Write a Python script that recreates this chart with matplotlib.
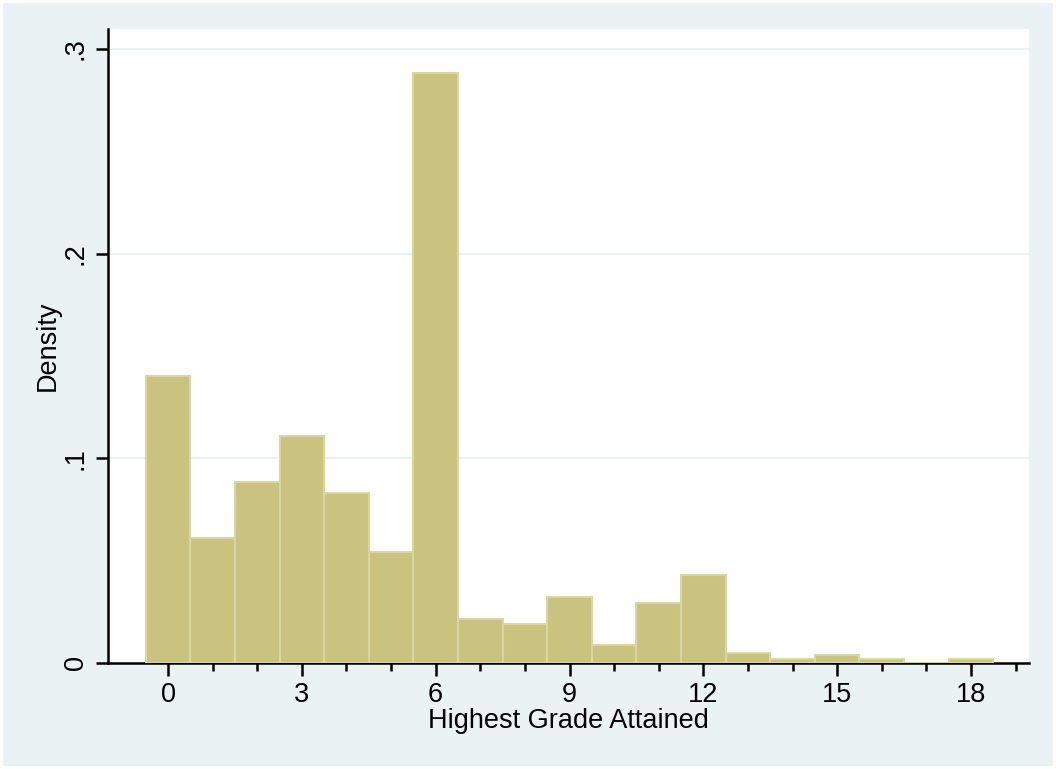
# Histogram of highest grade attained (Stata s2color look)
import matplotlib
matplotlib.use("Agg")
import matplotlib.pyplot as plt
import matplotlib.patches as mpatches
from matplotlib.ticker import FixedLocator

grades  = [0, 1, 2, 3, 4, 5, 6, 7, 8, 9, 10, 11, 12, 13, 14, 15, 16, 17, 18]
density = [0.1403, 0.0611, 0.0884, 0.1109, 0.0831, 0.0542, 0.2883, 0.0215,
           0.0191, 0.0322, 0.0088, 0.0293, 0.0430, 0.0049, 0.0020, 0.0039,
           0.0020, 0.0, 0.0020]
xticks  = [0, 3, 6, 9, 12, 15, 18]
yticks  = [0, 0.1, 0.2, 0.3]
ylabels = ["0", ".1", ".2", ".3"]

BG   = "#EAF2F3"
FILL = "#CAC380"
EDGE = "#DAD6A3"
FS   = 19.5

plt.rcParams["font.family"] = ["Liberation Sans", "DejaVu Sans"]

fig = plt.figure(figsize=(10.56, 7.69), dpi=100, facecolor="white")
# light outer panel with a thin white frame
fig.patches.append(mpatches.Rectangle((3 / 1056, 3 / 769), 1 - 6 / 1056, 1 - 6 / 769,
                                      transform=fig.transFigure, facecolor=BG,
                                      edgecolor="none", zorder=-10))

ax = fig.add_axes([108 / 1056, (769 - 663) / 769, (1029 - 108) / 1056, (663 - 29) / 769])
ax.set_facecolor("white")

ax.bar(grades, density, width=1.0, color=FILL, edgecolor=EDGE, linewidth=1.5, zorder=3)

ax.set_xlim(-1.345, 19.30)
ax.set_ylim(0, 0.3098)

ax.set_xticks(xticks)
ax.xaxis.set_minor_locator(FixedLocator([g for g in range(1, 20) if g % 3 != 0]))
ax.set_yticks(yticks)
ax.set_yticklabels(ylabels, rotation=90, va="center")

for y in yticks[1:]:
    ax.axhline(y, color=BG, linewidth=1.5, zorder=1)

for side in ["top", "right"]:
    ax.spines[side].set_visible(False)
for side in ["left", "bottom"]:
    ax.spines[side].set_linewidth(1.8)
    ax.spines[side].set_color("black")

ax.tick_params(axis="both", which="major", direction="out", length=9, width=1.8,
               labelsize=FS, pad=5, colors="black")
ax.tick_params(axis="x", which="minor", direction="out", length=6, width=1.8)

ax.set_xlabel("Highest Grade Attained", fontsize=FS, labelpad=0)
ax.set_ylabel("Density", fontsize=FS, labelpad=1)

fig.savefig("out.png", dpi=100, facecolor=fig.get_facecolor())
